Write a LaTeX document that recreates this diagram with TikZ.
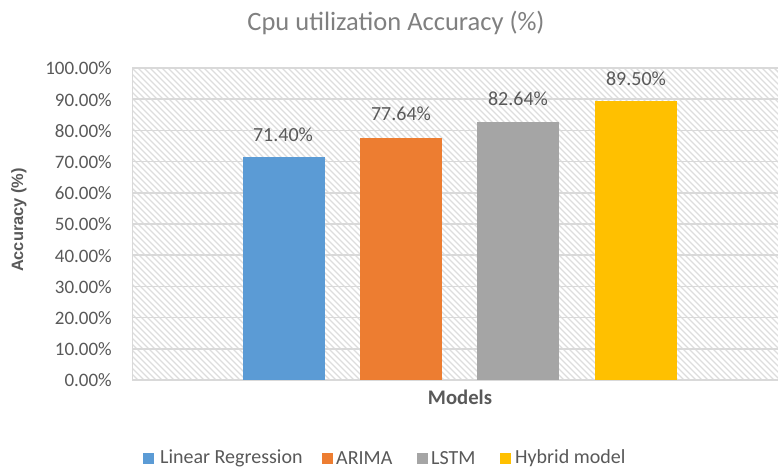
\documentclass[tikz,border=0pt]{standalone}
\usepackage{fontspec}
\setmainfont{Carlito}
\newfontfamily\axisfont{Liberation Sans}
\definecolor{gridgray}{HTML}{D9D9D9}
\definecolor{hatchgray}{HTML}{DDDDDD}
\definecolor{labelgray}{HTML}{595959}
\definecolor{titlegray}{HTML}{808080}
\definecolor{lrblue}{HTML}{5B9BD5}
\definecolor{arimaorange}{HTML}{ED7D31}
\definecolor{lstmgray}{HTML}{A5A5A5}
\definecolor{hybridyellow}{HTML}{FFC000}
\tikzset{
  bar/.style={fill=#1, draw=none, minimum width=82pt, anchor=south, inner sep=0pt, outer sep=0pt},
  ticklabel/.style={anchor=east, text=labelgray, font=\fontsize{19}{22}\selectfont, inner sep=0pt},
  datalabel/.style={text=labelgray, font=\fontsize{20}{24}\selectfont, inner sep=0pt},
  legendkey/.style={fill=#1, minimum size=11pt, inner sep=0pt, anchor=west},
  legendtext/.style={anchor=west, text=labelgray, font=\fontsize{20}{24}\selectfont, inner sep=0pt},
  gridline/.style={draw=gridgray, line width=1.5pt},
}
\begin{document}
\begin{tikzpicture}[x=1pt, y=-1pt]
  \useasboundingbox[fill=white] (0,0) rectangle (778,469);

  % plot area: diagonal hatching
  \begin{scope}
    \clip (132,68) rectangle (778,380);
    \foreach \i in {-55,...,110}
      \draw[hatchgray, line width=1.4pt] (132+6*\i,68) -- (132+6*\i+312,380);
  \end{scope}
  \draw[gridgray, line width=0.8pt] (132,68) -- (132,380);

  % horizontal grid and tick labels
  \foreach \v/\t in {0/0.00\%,1/10.00\%,2/20.00\%,3/30.00\%,4/40.00\%,5/50.00\%,6/60.00\%,7/70.00\%,8/80.00\%,9/90.00\%,10/100.00\%} {
    \draw[gridline] (132,380-31.2*\v) -- (778,380-31.2*\v);
    \node[ticklabel] (tick\v) at (112,380.5-31.2*\v) {\t};
  }

  % bars
  \node[bar=lrblue, minimum height=222.8pt] (lr) at (283.5,380) {};
  \node[bar=arimaorange, minimum height=242.2pt] (arima) at (400.8,380) {};
  \node[bar=lstmgray, minimum height=257.8pt] (lstm) at (518.1,380) {};
  \node[bar=hybridyellow, minimum height=279.2pt] (hybrid) at (635.8,380) {};

  % value labels
  \node[datalabel] (vlr) at (283,135) {71.40\%};
  \node[datalabel] (varima) at (401,114) {77.64\%};
  \node[datalabel] (vlstm) at (518,99) {82.64\%};
  \node[datalabel] (vhybrid) at (636,78.5) {89.50\%};

  % titles
  \node[text=titlegray, font=\fontsize{26.5}{30}\selectfont] (title) at (396,23) {Cpu utilization Accuracy (\%)};
  \node[text=labelgray, font=\axisfont\bfseries\fontsize{16.4}{20}\selectfont, rotate=90] (ytitle) at (19,220) {Accuracy (\%)};
  \node[text=labelgray, font=\bfseries\fontsize{20.7}{24}\selectfont] (xtitle) at (460,397) {Models};

  % legend
  \node[legendkey=lrblue] (klr) at (143,458.5) {};
  \node[legendtext] (tlr) at (160,458) {Linear Regression};
  \node[legendkey=arimaorange] (karima) at (322,458.5) {};
  \node[legendtext] (tarima) at (336,458) {ARIMA};
  \node[legendkey=lstmgray] (klstm) at (417,458.5) {};
  \node[legendtext] (tlstm) at (431,458) {LSTM};
  \node[legendkey=hybridyellow] (khybrid) at (500,458.5) {};
  \node[legendtext] (thybrid) at (515,458) {Hybrid model};
\end{tikzpicture}
\end{document}
